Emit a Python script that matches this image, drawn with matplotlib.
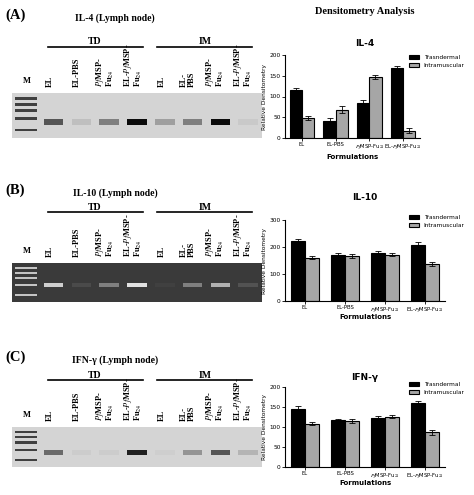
import matplotlib
matplotlib.use("Agg")
import matplotlib.pyplot as plt
import numpy as np

plt.rcParams['mathtext.fontset'] = 'stix'

W, H = 474, 495
fig = plt.figure(figsize=(W/100, H/100), dpi=100)

def pax(x0, y0, x1, y1):
    return fig.add_axes([x0/W, 1-y1/H, (x1-x0)/W, (y1-y0)/H])

formulations = ["EL", "EL-PBS", r"$\it{Pf}$MSP-Fu$_{24}$", r"EL-$\it{Pf}$MSP-Fu$_{24}$"]
series_names = ["Trasndermal", "Intramuscular"]

il4_td = [115, 42, 85, 168];   il4_td_err = [5, 5, 6, 6]
il4_im = [48, 68, 146, 18];    il4_im_err = [5, 8, 5, 7]
il10_td = [222, 172, 178, 208]; il10_td_err = [6, 6, 6, 10]
il10_im = [160, 167, 171, 137]; il10_im_err = [5, 6, 5, 7]
ifn_td = [145, 117, 122, 160];  ifn_td_err = [7, 3, 5, 4]
ifn_im = [108, 115, 126, 87];   ifn_im_err = [4, 5, 3, 6]

lane_labels = ["EL", "EL-PBS", "$\\it{Pf}$MSP-\nFu$_{24}$", "EL-$\\it{Pf}$MSP-\nFu$_{24}$",
               "EL", "EL-\nPBS", "$\\it{Pf}$MSP-\nFu$_{24}$", "EL-$\\it{Pf}$MSP-\nFu$_{24}$"]
il4_bands = [0.6, 0.1, 0.4, 0.95, 0.25, 0.4, 0.95, 0.05]
il10_bands = [0.75, 0.08, 0.35, 0.85, 0.03, 0.35, 0.6, 0.12]
ifn_bands = [0.5, 0.04, 0.04, 0.85, 0.03, 0.3, 0.6, 0.15]
ladder = [0.85, 0.72, 0.58, 0.4, 0.15]

serif = dict(family='Liberation Serif', weight='bold')

def gel(label, title, ylab, ytd, y0, y1, bands, dark, band_y):
    fig.text(5/W, 1-ylab/H, label, fontsize=10.5, va='center', **serif)
    fig.text(115/W, 1-(ylab+3)/H, title, fontsize=7, va='center', ha='center', **serif)
    fig.text(95/W, 1-ytd/H, "TD", fontsize=7, ha='center', va='center', **serif)
    fig.text(205/W, 1-ytd/H, "IM", fontsize=7, ha='center', va='center', **serif)
    fig.add_artist(plt.Line2D([48/W, 143/W], [1-(ytd+5)/H]*2, color='k', lw=1.2))
    fig.add_artist(plt.Line2D([157/W, 252/W], [1-(ytd+5)/H]*2, color='k', lw=1.2))
    ax = pax(12, y0, 262, y1)
    bg = '#3a3a3a' if dark else '#d4d4d4'
    ax.set_facecolor(bg)
    ax.set_xlim(-0.5, 8.5); ax.set_ylim(0, 1)
    ax.set_xticks([]); ax.set_yticks([])
    for s in ax.spines.values(): s.set_visible(False)
    base = np.array([1, 1, 1]) if dark else np.array([0, 0, 0])
    bgc = np.array(matplotlib.colors.to_rgb(bg))
    for yb in ladder:
        c = bgc + (base - bgc) * 0.7
        ax.bar(0, 0.06, bottom=yb, width=0.8, color=c)
    lanes = np.arange(1, 9)
    for i, b in zip(lanes, bands):
        c = bgc + (base - bgc) * b
        ax.bar(i, 0.12, bottom=band_y, width=0.7, color=c)
    xs = [27, 50, 77, 105, 133, 162, 188, 215, 243]
    fig.text(xs[0]/W, 1-(y0-12)/H, "M", fontsize=6, ha='center', va='center', **serif)
    for x, t in zip(xs[1:], lane_labels):
        fig.text(x/W, 1-(y0-6)/H, t, fontsize=6, rotation=90, ha='center', va='bottom',
                 multialignment='left', linespacing=0.9, **serif)

gel("(A)", "IL-4 (Lymph node)", 15, 42, 93, 138, il4_bands, False, 0.3)
gel("(B)", "IL-10 (Lymph node)", 190, 207, 263, 302, il10_bands, True, 0.38)
gel("(C)", "IFN-γ (Lymph node)", 357, 375, 427, 467, ifn_bands, False, 0.3)

fig.text(365/W, 1-12/H, "Densitometry Analysis", fontsize=7.5, ha='center', va='center', **serif)

def barchart(title, ytop, ybot, x1, ymax, step, td, tde, im, ime, ytitle, leg_y, flab_y):
    ax = pax(285, ytop, x1, ybot)
    x = np.arange(len(formulations))
    w = 0.36
    ax.bar(x - w/2, td, w, yerr=tde, color='black', edgecolor='black', lw=0.8,
           capsize=2, error_kw=dict(lw=0.6, capthick=0.6), label=series_names[0])
    ax.bar(x + w/2, im, w, yerr=ime, color='#a6a6a6', edgecolor='black', lw=0.8,
           capsize=2, error_kw=dict(lw=0.6, capthick=0.6), label=series_names[1])
    ax.set_ylim(0, ymax)
    ax.set_xlim(-0.5, 3.5)
    ax.set_yticks(np.arange(0, ymax + 1, step))
    ax.set_xticks(x)
    ax.set_xticklabels(formulations, fontsize=3.8)
    ax.tick_params(axis='y', labelsize=4.2, length=2, width=0.6, pad=1)
    ax.tick_params(axis='x', length=2, width=0.6, pad=1)
    for s in ['top', 'right']: ax.spines[s].set_visible(False)
    for s in ['left', 'bottom']: ax.spines[s].set_linewidth(0.8)
    ax.set_ylabel("Relative Densitometry", fontsize=4.2, labelpad=2)
    fig.text((285 + x1)/2/W, 1-flab_y/H, "Formulations", fontsize=5, ha='center', va='center', weight='bold')
    fig.text(365/W, 1-ytitle/H, title, fontsize=6.5, ha='center', va='center', weight='bold')
    fig.legend(*ax.get_legend_handles_labels(), loc='upper right', bbox_to_anchor=(470/W, 1-leg_y/H),
               fontsize=4.2, frameon=False, handlelength=1.8, handleheight=0.7, labelspacing=0.5)

barchart("IL-4", 55, 138, 420, 200, 50, il4_td, il4_td_err, il4_im, il4_im_err, 44, 50, 157)
barchart("IL-10", 220, 301, 445, 300, 100, il10_td, il10_td_err, il10_im, il10_im_err, 197, 210, 317)
barchart("IFN-γ", 387, 467, 445, 200, 50, ifn_td, ifn_td_err, ifn_im, ifn_im_err, 377, 377, 483)

fig.savefig("out.png", dpi=100)
